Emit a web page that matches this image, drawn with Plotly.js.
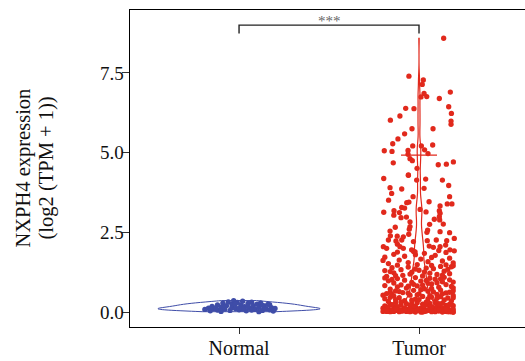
<!DOCTYPE html>
<html>
<head>
<meta charset="utf-8">
<script src="https://cdn.plot.ly/plotly-3.0.1.min.js"></script>
<style>html,body{margin:0;padding:0;background:#fff}#chart{width:525px;height:361px}</style>
</head>
<body>
<div id="chart"></div>
<script>
// Categories and tick labels
const categories = ['Normal', 'Tumor'];
const yTickVals = [0, 2.5, 5, 7.5];
const yTickText = ['0.0', '2.5', '5.0', '7.5'];
const yTitleLines = ['NXPH4 expression', '(log2 (TPM + 1))'];

// Normal group: expression values and horizontal jitter offsets
const normalY = [0.08,0.12,0.04,0.18,0.10,0.22,0.06,0.15,0.28,0.09,0.20,0.32,0.05,0.25,0.14,0.36,0.11,0.30,0.07,0.22,0.34,0.17,0.04,0.27,0.12,0.31,0.20,0.08,0.25,0.15,0.29,0.05,0.19,0.10,0.24,0.07,0.14,0.03,0.11,0.09,0.02,0.18,0.26,0.13,0.21,0.06,0.16,0.23,0.01,0.12];
const normalDX = [-0.19,-0.17,-0.16,-0.15,-0.14,-0.12,-0.12,-0.10,-0.09,-0.08,-0.07,-0.06,-0.05,-0.04,-0.04,-0.03,-0.02,-0.01,0.00,0.01,0.02,0.03,0.04,0.05,0.06,0.07,0.08,0.09,0.10,0.11,0.12,0.13,0.14,0.15,0.16,0.17,0.18,0.19,0.20,0.02,-0.10,0.05,-0.02,-0.13,0.13,0.07,-0.08,0.17,0.11,0.00];

// Tumor group: expression values and horizontal jitter offsets
const tumorY = [
0.02,0.05,0.01,0.08,0.03,0.06,0.12,0.15,0.10,0.18,0.14,0.11,0.20,0.24,0.22,0.27,0.25,0.29,0.21,0.04,0.07,0.09,0.13,0.16,0.02,0.19,0.26,0.23,0.28,0.17,0.00,0.06,0.11,0.14,0.30,0.03,0.08,0.19,0.25,0.12,0.05,0.21,0.16,0.27,0.09,0.01,0.23,0.18,0.07,0.29,0.10,0.15,0.04,0.26,0.13,0.20,0.02,0.24,0.17,0.06,
0.01,0.03,0.00,0.04,0.02,0.05,0.01,0.03,0.06,0.00,0.02,0.04,0.07,0.01,0.03,0.05,0.02,0.00,0.04,0.06,0.01,0.08,0.03,0.02,0.05,0.00,0.07,0.04,0.01,0.09,0.03,0.06,0.02,0.10,0.05,0.01,0.04,0.08,0.00,0.03,
0.33,0.36,0.31,0.38,0.42,0.45,0.40,0.47,0.44,0.50,0.53,0.49,0.55,0.52,0.58,0.61,0.57,0.63,0.60,0.66,0.68,0.65,0.69,0.35,0.39,0.46,0.54,0.62,0.34,0.48,0.56,0.67,0.41,0.59,0.37,0.43,0.51,0.64,0.32,0.70,0.45,0.57,0.39,0.62,0.53,
0.72,0.75,0.73,0.78,0.80,0.83,0.85,0.82,0.88,0.86,0.91,0.93,0.90,0.95,0.98,1.00,0.97,1.03,1.01,1.05,1.08,1.06,1.09,0.76,0.79,0.87,0.94,1.02,0.74,0.92,1.07,0.84,0.99,0.81,1.04,
1.12,1.15,1.13,1.18,1.20,1.23,1.25,1.22,1.28,1.30,1.33,1.31,1.36,1.34,1.39,1.41,1.38,1.43,1.45,1.47,1.49,1.46,1.16,1.27,1.35,1.42,1.19,1.48,1.26,1.14,
1.52,1.55,1.58,1.60,1.63,1.66,1.69,1.72,1.75,1.78,1.81,1.84,1.87,1.90,1.93,1.54,1.62,1.71,1.80,1.88,
2.05,2.00,2.13,2.05,2.00,1.95,1.89,2.07,2.03,2.10,1.95,1.92,2.05,
2.26,2.24,2.31,2.26,2.23,2.26,2.21,2.24,2.39,2.38,2.36,2.44,2.54,2.57,2.50,2.52,2.49,
2.68,2.60,2.66,2.83,2.91,2.89,2.75,2.76,2.96,2.98,3.04,3.12,3.18,3.10,2.99,3.13,3.14,3.18,3.22,
3.28,3.26,3.33,3.39,3.39,3.45,3.43,3.46,3.51,3.62,3.62,3.72,3.86,3.88,3.90,3.97,
4.19,4.30,4.14,4.17,4.14,4.29,4.51,4.68,4.62,4.64,4.71,4.75,4.81,4.95,4.97,5.06,5.04,5.07,5.09,5.21,5.21,5.24,5.28,5.43,5.59,
5.75,5.75,5.89,5.99,6.02,6.15,6.23,6.38,6.39,6.44,6.70,6.76,6.75,6.86,6.90,7.14,7.28,7.40,8.59];
const tumorDX = [
-0.18,-0.12,-0.05,0.03,0.11,0.17,-0.20,-0.14,-0.08,-0.02,0.06,0.14,0.19,-0.16,-0.10,-0.04,0.02,0.09,0.15,-0.15,-0.09,0.00,0.08,0.12,0.18,-0.19,-0.07,0.04,0.13,-0.12,-0.02,0.07,-0.17,0.16,-0.13,0.14,-0.06,0.10,0.17,0.01,0.05,-0.05,-0.18,0.06,0.19,0.09,-0.15,0.16,-0.11,-0.01,0.12,-0.03,0.02,0.11,-0.08,0.03,-0.07,0.18,0.07,-0.19,
-0.16,-0.09,0.01,0.08,0.15,-0.19,-0.11,0.04,0.12,0.19,-0.14,-0.03,0.06,0.17,-0.07,0.10,-0.17,0.02,0.14,-0.12,0.18,-0.05,0.09,-0.20,0.05,0.13,-0.08,-0.15,0.16,0.00,-0.10,0.11,0.03,-0.13,-0.01,0.07,-0.18,0.15,0.19,-0.04,
-0.17,-0.08,0.04,0.14,-0.19,-0.11,-0.02,0.07,0.16,-0.14,-0.05,0.02,0.10,0.19,-0.18,-0.09,0.00,0.08,0.15,-0.13,-0.03,0.05,0.12,0.18,-0.13,-0.16,-0.01,0.17,0.09,0.12,-0.15,0.19,0.05,-0.06,-0.04,0.10,0.06,-0.11,-0.10,0.01,0.19,0.13,0.00,-0.16,-0.20,
-0.16,-0.07,0.03,0.11,0.18,-0.19,-0.10,-0.01,0.07,0.15,-0.14,-0.04,0.05,0.13,-0.17,-0.08,0.01,0.09,0.17,-0.12,-0.02,0.06,0.14,0.19,-0.12,-0.03,0.19,-0.15,0.07,0.10,-0.19,0.02,0.04,-0.06,0.12,
-0.18,-0.09,0.02,0.10,0.17,-0.14,-0.04,0.06,0.14,-0.19,-0.10,0.00,0.08,0.16,-0.15,-0.06,0.04,0.12,0.19,-0.12,-0.01,0.07,0.13,-0.16,-0.02,0.18,-0.05,0.15,0.03,-0.13,
-0.17,-0.06,0.05,0.13,-0.11,0.01,0.17,-0.19,-0.08,0.09,-0.14,0.03,0.15,-0.03,0.11,0.19,-0.20,0.07,-0.02,-0.12,
-0.198,-0.18,-0.12,-0.106,-0.087,-0.041,-0.022,0.057,0.080,0.148,0.172,0.196,0.117,
0.096,0.154,0.196,-0.17,-0.128,-0.096,-0.031,0.046,-0.159,-0.121,-0.087,-0.057,-0.161,0.048,0.044,0.117,0.17,
-0.05,-0.054,-0.132,-0.05,0.085,0.115,0.059,0.135,-0.10,-0.07,-0.14,-0.109,0.113,0.117,0.113,-0.196,0.039,-0.139,0.006,
-0.096,-0.08,0.117,0.157,0.183,-0.056,-0.068,0.056,-0.169,-0.033,0.17,-0.152,-0.096,0.028,-0.161,0.165,
-0.196,-0.059,-0.013,0.037,0.13,-0.059,-0.011,-0.143,0.107,0.152,0.191,-0.037,-0.05,-0.061,0.05,-0.193,-0.15,-0.061,0.031,-0.035,0.013,0.076,-0.146,-0.117,-0.08,
-0.039,0.078,0.178,0.178,-0.159,-0.106,0.18,-0.028,-0.074,0.165,0.113,0.043,0.011,0.028,0.174,0.018,0.024,-0.056,0.137];

// Tumor crossbar level
const tumorCrossbar = [4.92];

const blue = '#3F4DA8';
const red = '#E1291C';

function jittered(idx, dx) { return dx.map(d => idx + d); }

const traces = [
  {type:'violin', x0:0, y:normalY, name:categories[0], points:false, box:{visible:false}, meanline:{visible:false},
   line:{color:blue, width:1}, fillcolor:'rgba(0,0,0,0)', width:0.9, spanmode:'hard', scalemode:'width', hoverinfo:'skip'},
  {type:'violin', x0:1, y:tumorY, name:categories[1], points:false, box:{visible:false}, meanline:{visible:false},
   line:{color:red, width:1.2}, fillcolor:'rgba(0,0,0,0)', width:0.2, spanmode:'hard', scalemode:'width', bandwidth:0.2, hoverinfo:'skip'},
  {type:'scatter', mode:'markers', x:jittered(0, normalDX), y:normalY, marker:{color:blue, size:5.3}, hoverinfo:'skip'},
  {type:'scatter', mode:'markers', x:jittered(1, tumorDX), y:tumorY, marker:{color:red, size:5.3}, hoverinfo:'skip'}
];

const plotL = 130, plotW = 395;
function paperX(px) { return (px - plotL) / plotW; }

const layout = {
  width:525, height:361,
  margin:{l:plotL, r:0, t:10, b:34},
  paper_bgcolor:'#fff', plot_bgcolor:'#fff',
  showlegend:false,
  violinmode:'overlay',
  font:{family:'Liberation Serif, Times New Roman, serif', color:'#111', size:19},
  xaxis:{range:[-0.606, 1.589], tickvals:[0,1], ticktext:categories, showline:true, mirror:true, linecolor:'#000', linewidth:1.4,
         ticks:'outside', ticklen:6, tickcolor:'#333', showgrid:false, zeroline:false, tickfont:{size:20}, ticklabelstandoff:-3},
  yaxis:{range:[-0.47, 9.476], tickvals:yTickVals, ticktext:yTickText, showline:true, linecolor:'#000', linewidth:1.4,
         ticks:'outside', ticklen:7, tickcolor:'#333', showgrid:false, zeroline:false, tickfont:{size:19}, ticklabelstandoff:-6},
  shapes:[
    {type:'path', xref:'x', yref:'y', path:'M 0 8.74 L 0 9.0 L 1 9.0 L 1 8.74', line:{color:'#222', width:1.4}},
    {type:'line', xref:'x', yref:'y', x0:0.9, x1:1.1, y0:tumorCrossbar[0], y1:tumorCrossbar[0], line:{color:red, width:1.2}}
  ],
  annotations:[
    {xref:'x', yref:'paper', x:0.5, y:1, yanchor:'top', yshift:-1, text:'***', showarrow:false, font:{size:15, color:'#666'}},
    {xref:'paper', yref:'paper', x:paperX(23), y:0.5, xanchor:'center', yanchor:'middle', textangle:-90, text:yTitleLines[0], showarrow:false, font:{size:20.5}},
    {xref:'paper', yref:'paper', x:paperX(46), y:0.5, xanchor:'center', yanchor:'middle', textangle:-90, text:yTitleLines[1], showarrow:false, font:{size:20.5}}
  ]
};

Plotly.newPlot('chart', traces, layout, {displayModeBar:false, staticPlot:true});
</script>
</body>
</html>
